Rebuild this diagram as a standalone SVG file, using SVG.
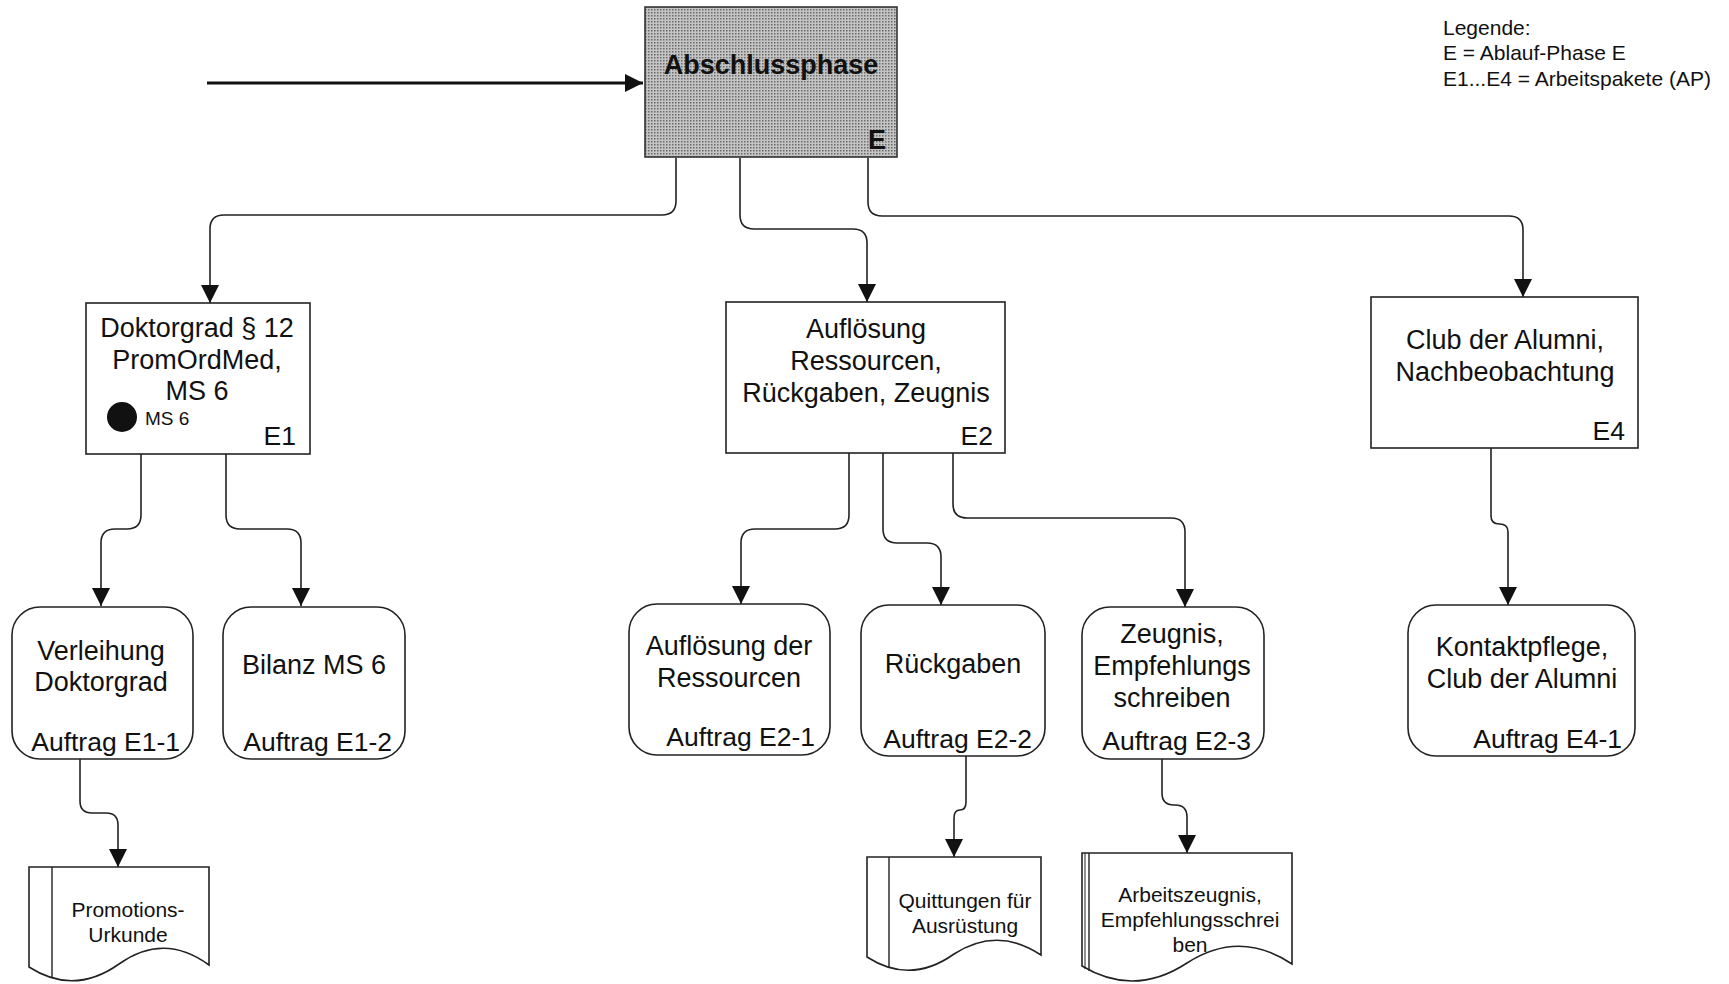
<svg xmlns="http://www.w3.org/2000/svg" width="1729" height="984" viewBox="0 0 1729 984">
<style>
text{font-family:"Liberation Sans",Arial,sans-serif;fill:#111}
.t{font-size:27px;text-anchor:middle}
.r{font-size:26.5px;text-anchor:end}
.d{font-size:21px;text-anchor:middle}
.lg{font-size:21px}
.box{fill:#fff;stroke:#222;stroke-width:1.6}
.con{fill:none;stroke:#222;stroke-width:1.6;marker-end:url(#ah)}
</style>
<defs>
<marker id="ah" markerUnits="userSpaceOnUse" markerWidth="18" markerHeight="18" viewBox="0 0 16 16" refX="16" refY="8" orient="auto">
<path d="M0,0 L16,8 L0,16 Z" fill="#111"/>
</marker>
<pattern id="dots" width="3" height="3" patternUnits="userSpaceOnUse">
<rect width="3" height="3" fill="#c4c4c4"/>
<rect width="1.5" height="1.5" fill="#6a6a6a"/>
</pattern>
</defs>
<rect width="1729" height="984" fill="#fff"/>

<g id="legend">
<text class="lg" x="1443" y="35">Legende:</text>
<text class="lg" x="1443" y="60">E = Ablauf-Phase E</text>
<text class="lg" x="1443" y="86">E1...E4 = Arbeitspakete (AP)</text>
</g>

<g id="connectors">
<path d="M207,83 H643" fill="none" stroke="#111" stroke-width="3" marker-end="url(#ah)"/>
<path class="con" d="M676,158 V201 Q676,215 662,215 H224 Q210,215 210,229 V303"/>
<path class="con" d="M740,158 V215 Q740,229 754,229 H853 Q867,229 867,243 V302"/>
<path class="con" d="M868,158 V202 Q868,216 882,216 H1509 Q1523,216 1523,230 V297"/>
<path class="con" d="M141,453 V515 Q141,529 127,529 H115 Q101,529 101,543 V606"/>
<path class="con" d="M226,453 V515 Q226,529 240,529 H287 Q301,529 301,543 V606"/>
<path class="con" d="M849,453 V515 Q849,529 835,529 H755 Q741,529 741,543 V604"/>
<path class="con" d="M883,453 V529 Q883,543 897,543 H927 Q941,543 941,557 V605"/>
<path class="con" d="M953,453 V504 Q953,518 967,518 H1171 Q1185,518 1185,532 V607"/>
<path class="con" d="M1491,448 V516 Q1491,524 1499.5,524 Q1508,524 1508,532 V605"/>
<path class="con" d="M80,759 V801 Q80,813 92,813 H106 Q118,813 118,825 V867"/>
<path class="con" d="M966,756 V802 Q966,810 960,810 Q954,810 954,818 V857"/>
<path class="con" d="M1162,759 V793 Q1162,805 1174,805 H1175 Q1187,805 1187,817 V853"/>
</g>

<g id="E">
<rect x="645" y="7" width="252" height="150" fill="url(#dots)" stroke="#333" stroke-width="1.6"/>
<text x="771" y="74" font-size="27" font-weight="bold" text-anchor="middle">Abschlussphase</text>
<text x="886" y="149" font-size="27" font-weight="bold" text-anchor="end">E</text>
</g>

<g id="E1">
<rect class="box" x="86" y="303" width="224" height="151"/>
<text class="t" x="197" y="337">Doktorgrad § 12</text>
<text class="t" x="197" y="369">PromOrdMed,</text>
<text class="t" x="197" y="400">MS 6</text>
<circle cx="122" cy="417" r="15" fill="#111"/>
<text x="145" y="425" font-size="19">MS 6</text>
<text class="r" x="296" y="445">E1</text>
</g>

<g id="E2">
<rect class="box" x="726" y="302" width="279" height="151"/>
<text class="t" x="866" y="338">Auflösung</text>
<text class="t" x="866" y="370">Ressourcen,</text>
<text class="t" x="866" y="402">Rückgaben, Zeugnis</text>
<text class="r" x="993" y="445">E2</text>
</g>

<g id="E4">
<rect class="box" x="1371" y="297" width="267" height="151"/>
<text class="t" x="1505" y="349">Club der Alumni,</text>
<text class="t" x="1505" y="381">Nachbeobachtung</text>
<text class="r" x="1625" y="440">E4</text>
</g>

<g id="E1-1">
<rect class="box" x="12" y="607" width="181" height="152" rx="28"/>
<text class="t" x="101" y="660">Verleihung</text>
<text class="t" x="101" y="691">Doktorgrad</text>
<text class="r" x="180" y="751">Auftrag E1-1</text>
</g>

<g id="E1-2">
<rect class="box" x="223" y="607" width="182" height="152" rx="28"/>
<text class="t" x="314" y="674">Bilanz MS 6</text>
<text class="r" x="392" y="751">Auftrag E1-2</text>
</g>

<g id="E2-1">
<rect class="box" x="629" y="604" width="201" height="151" rx="28"/>
<text class="t" x="729" y="655">Auflösung der</text>
<text class="t" x="729" y="687">Ressourcen</text>
<text class="r" x="815" y="746">Auftrag E2-1</text>
</g>

<g id="E2-2">
<rect class="box" x="861" y="605" width="184" height="151" rx="28"/>
<text class="t" x="953" y="673">Rückgaben</text>
<text class="r" x="1032" y="748">Auftrag E2-2</text>
</g>

<g id="E2-3">
<rect class="box" x="1082" y="607" width="182" height="152" rx="28"/>
<text class="t" x="1172" y="643">Zeugnis,</text>
<text class="t" x="1172" y="675">Empfehlungs</text>
<text class="t" x="1172" y="707">schreiben</text>
<text class="r" x="1251" y="750">Auftrag E2-3</text>
</g>

<g id="E4-1">
<rect class="box" x="1408" y="605" width="227" height="151" rx="28"/>
<text class="t" x="1522" y="656">Kontaktpflege,</text>
<text class="t" x="1522" y="688">Club der Alumni</text>
<text class="r" x="1622" y="748">Auftrag E4-1</text>
</g>

<g id="doc-promotion">
<path class="box" d="M29,867 H209 V965 Q164,932 119,964 Q74,996 29,967 Z"/>
<line x1="52" y1="867" x2="52" y2="977" stroke="#222" stroke-width="1.4"/>
<text class="d" x="128" y="917">Promotions-</text>
<text class="d" x="128" y="942">Urkunde</text>
</g>

<g id="doc-quittungen">
<path class="box" d="M867,857 H1041 V955 Q997.5,926 954,954 Q910.5,985 867,957 Z"/>
<line x1="889" y1="857" x2="889" y2="967" stroke="#222" stroke-width="1.4"/>
<text class="d" x="965" y="908">Quittungen für</text>
<text class="d" x="965" y="933">Ausrüstung</text>
</g>

<g id="doc-zeugnis">
<path class="box" d="M1082,853 H1292 V964 Q1239.5,929 1187,963 Q1134.5,997.5 1082,966 Z"/>
<line x1="1085" y1="853" x2="1085" y2="969" stroke="#222" stroke-width="1"/>
<line x1="1089" y1="853" x2="1089" y2="971" stroke="#222" stroke-width="1.4"/>
<text class="d" x="1190" y="902">Arbeitszeugnis,</text>
<text class="d" x="1190" y="927">Empfehlungsschrei</text>
<text class="d" x="1190" y="952">ben</text>
</g>
</svg>
